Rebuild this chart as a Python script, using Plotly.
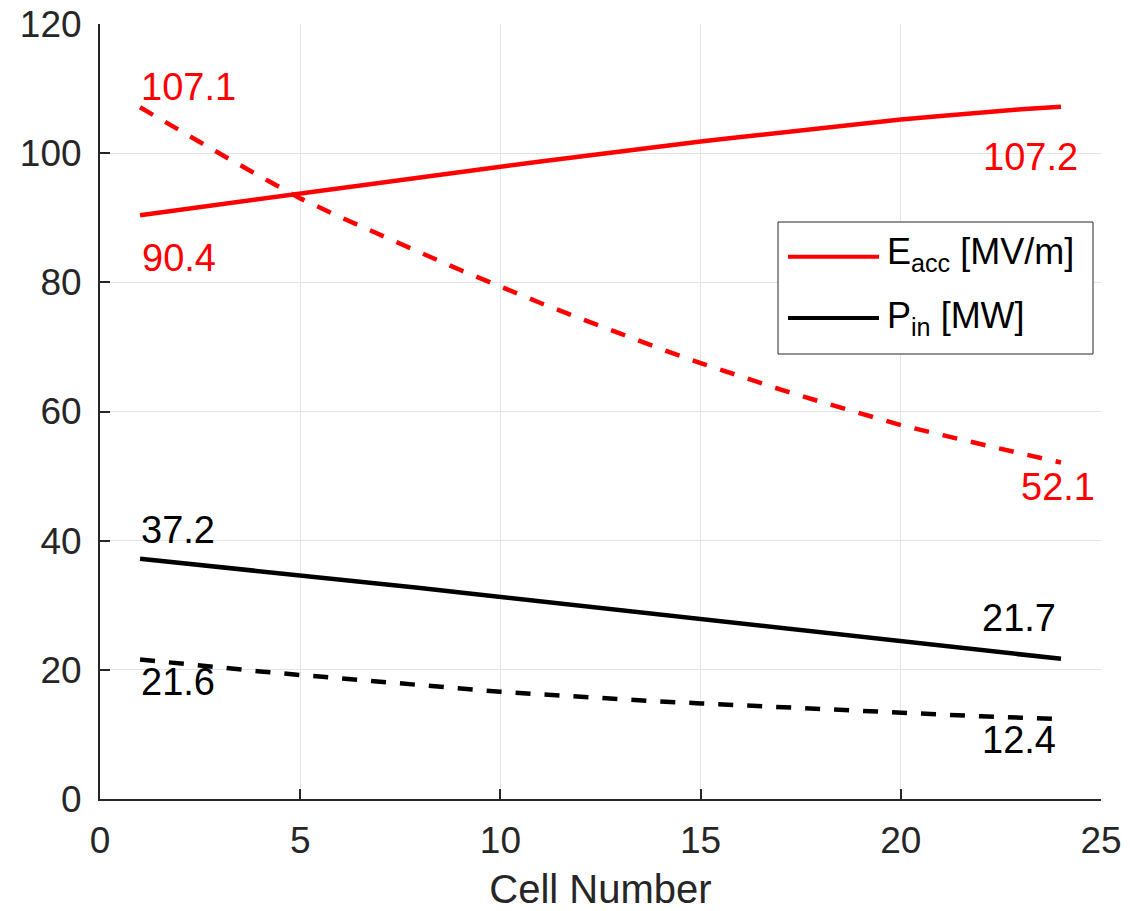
import plotly.graph_objects as go

# ---- data ----
cells = list(range(1, 25))

eacc_solid = [90.4, 91.25, 92.1, 92.95, 93.8, 94.65, 95.5, 96.3, 97.1, 97.9,
              98.7, 99.5, 100.3, 101.05, 101.8, 102.5, 103.2, 103.9, 104.55, 105.2,
              105.75, 106.3, 106.8, 107.2]
eacc_dashed = [107.1, 103.4, 99.9, 96.4, 93.0, 90.1, 87.3, 84.6, 81.9, 79.3,
               76.8, 74.4, 72.0, 69.7, 67.5, 65.4, 63.4, 61.5, 59.7, 57.9,
               56.4, 54.9, 53.5, 52.1]
pin_solid = [37.2, 36.57, 35.95, 35.32, 34.7, 34.02, 33.34, 32.66, 31.98, 31.3,
             30.6, 29.9, 29.2, 28.5, 27.8, 27.12, 26.44, 25.76, 25.08, 24.4,
             23.72, 23.05, 22.38, 21.7]
pin_dashed = [21.6, 20.95, 20.35, 19.75, 19.2, 18.65, 18.1, 17.6, 17.1, 16.6,
              16.2, 15.8, 15.45, 15.1, 14.8, 14.5, 14.2, 13.9, 13.6, 13.3,
              13.05, 12.8, 12.6, 12.4]

x_ticks = [0, 5, 10, 15, 20, 25]
y_ticks = [0, 20, 40, 60, 80, 100, 120]

legend_names = ["E<sub>acc</sub> [MV/m]", "P<sub>in</sub> [MW]"]

RED = "#FF0000"
BLACK = "#000000"
AXC = "#262626"
FONT = "Arial, 'Liberation Sans', Helvetica, sans-serif"
LW = 4.5
DASH = "15px,14px"

W, H = 1133, 911
ML, MR, MT, MB = 100, 32, 24, 112
PW, PH = W - ML - MR, H - MT - MB


def px2paper(px, py):
    return (px - ML) / PW, (H - MB - py) / PH


fig = go.Figure()
fig.add_trace(go.Scatter(x=cells, y=eacc_solid, mode="lines", name=legend_names[0],
                         showlegend=False, line=dict(color=RED, width=LW)))
fig.add_trace(go.Scatter(x=cells, y=pin_solid, mode="lines", name=legend_names[1],
                         showlegend=False, line=dict(color=BLACK, width=LW)))
fig.add_trace(go.Scatter(x=cells, y=eacc_dashed, mode="lines", showlegend=False,
                         name=legend_names[0] + " (dashed)",
                         line=dict(color=RED, width=LW, dash=DASH)))
fig.add_trace(go.Scatter(x=cells, y=pin_dashed, mode="lines", showlegend=False,
                         name=legend_names[1] + " (dashed)",
                         line=dict(color=BLACK, width=LW, dash=DASH)))


# value labels at the line ends
def lab(x, y, color, xanchor, xshift, yshift):
    fig.add_annotation(x=x, y=y, text=f"{y:.1f}", showarrow=False,
                       xanchor=xanchor, yanchor="middle", xshift=xshift, yshift=yshift,
                       font=dict(family=FONT, size=38, color=color))


lab(cells[0], eacc_dashed[0], RED, "left", -1, 20)
lab(cells[0], eacc_solid[0], RED, "left", 0, -43)
lab(cells[-1], eacc_solid[-1], RED, "right", 19, -50)
lab(cells[-1], eacc_dashed[-1], RED, "right", 36, -24.5)
lab(cells[0], pin_solid[0], BLACK, "left", -1.5, 29)
lab(cells[0], pin_dashed[0], BLACK, "left", -1, -22.5)
lab(cells[-1], pin_solid[-1], BLACK, "right", -2.5, 40.5)
lab(cells[-1], pin_dashed[-1], BLACK, "right", -3, -21)

# ---- legend box (drawn like the reference, with long line samples) ----
bx0, by0 = px2paper(778, 354)
bx1, by1 = px2paper(1093, 222)
fig.add_shape(type="rect", xref="paper", yref="paper", x0=bx0, y0=by0, x1=bx1, y1=by1,
              line=dict(color=AXC, width=1), fillcolor="white", layer="above")
for name, color, ly, ty in [(legend_names[0], RED, 256.7, 254.5),
                            (legend_names[1], BLACK, 318.0, 318.0)]:
    lx0, lyp = px2paper(788, ly)
    lx1, _ = px2paper(879, ly)
    fig.add_shape(type="line", xref="paper", yref="paper", x0=lx0, x1=lx1, y0=lyp, y1=lyp,
                  line=dict(color=color, width=4), layer="above")
    tx, typ = px2paper(885, ty)
    fig.add_annotation(xref="paper", yref="paper", x=tx, y=typ, text=name, showarrow=False,
                       xanchor="left", yanchor="middle",
                       font=dict(family=FONT, size=36, color=BLACK))

axis_common = dict(
    showgrid=True, gridcolor="#e3e3e3", gridwidth=1,
    showline=True, linecolor=AXC, linewidth=2,
    ticks="inside", ticklen=10, tickwidth=2, tickcolor=AXC,
    zeroline=False, mirror=False, automargin=False,
    tickfont=dict(family=FONT, size=37, color=AXC),
)

fig.update_xaxes(range=[0, 25], tickvals=x_ticks, ticktext=[str(v) for v in x_ticks],
                 title=dict(text="Cell Number", font=dict(family=FONT, size=40, color=AXC), standoff=19),
                 ticklabelstandoff=8, **axis_common)
fig.update_yaxes(range=[0, 120], tickvals=y_ticks, ticktext=[str(v) for v in y_ticks],
                 ticklabelstandoff=9, **axis_common)

fig.update_layout(
    width=W, height=H,
    margin=dict(l=ML, r=MR, t=MT, b=MB, pad=0, autoexpand=False),
    paper_bgcolor="white", plot_bgcolor="white",
    showlegend=False,
)

fig.write_html("out.html", config={"displayModeBar": False},
               post_script="document.body.style.margin='0';")
